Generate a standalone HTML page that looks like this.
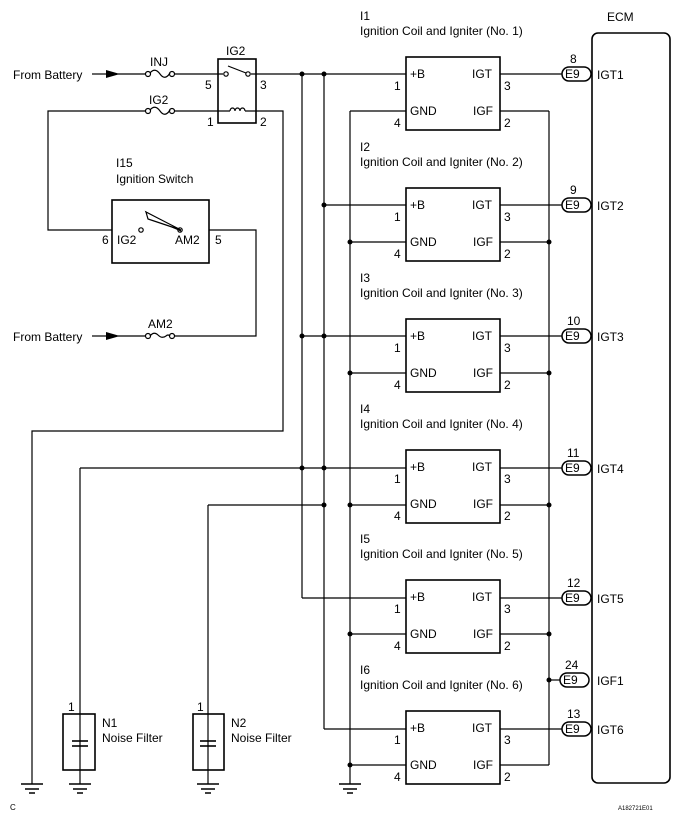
<!DOCTYPE html>
<html><head><meta charset="utf-8"><style>
html,body{margin:0;padding:0;background:#fff;}
svg{display:block;font-family:"Liberation Sans",sans-serif;}
text{font-size:12px;fill:#000;}
</style></head><body>
<svg width="691" height="822" viewBox="0 0 691 822" xmlns="http://www.w3.org/2000/svg">
<g stroke="#000" stroke-width="1.2" fill="none">
<!-- From battery INJ line -->
<line x1="92" y1="74" x2="108" y2="74"/>
<line x1="118" y1="74" x2="145" y2="74"/>
<circle cx="148" cy="74" r="2.5"/><circle cx="172" cy="74" r="2.5"/>
<path d="M150 73 Q155 67 160 74 Q165 81 170 73"/>
<line x1="175" y1="74" x2="223" y2="74"/>
<!-- relay -->
<rect x="218" y="59" width="38" height="64" stroke-width="1.6"/>
<circle cx="226" cy="74" r="2.2"/><circle cx="248" cy="74" r="2.2"/>
<line x1="228" y1="66" x2="246" y2="73"/>
<line x1="251" y1="74" x2="406" y2="74"/>
<!-- IG2 fuse line -->
<polyline points="145,111 48,111 48,230 112,230"/>
<circle cx="148" cy="111" r="2.5"/><circle cx="172" cy="111" r="2.5"/>
<path d="M150 110 Q155 104 160 111 Q165 118 170 110"/>
<line x1="175" y1="111" x2="230" y2="111"/>
<path d="M230 111 a2.5 3 0 0 1 5 0 a2.5 3 0 0 1 5 0 a2.5 3 0 0 1 5 0"/>
<polyline points="245,111 283,111 283,431 32,431 32,784"/>
<!-- ignition switch -->
<rect x="112" y="200" width="97" height="63" stroke-width="1.6"/>
<circle cx="141" cy="230" r="2.2"/><circle cx="180" cy="230" r="2.2"/>
<polyline points="209,230 256,230 256,336 175,336"/>
<line x1="92" y1="336" x2="108" y2="336"/>
<line x1="118" y1="336" x2="145" y2="336"/>
<circle cx="148" cy="336" r="2.5"/><circle cx="172" cy="336" r="2.5"/>
<path d="M150 336 Q154 331 158 335 Q162 339 166 336 Q168 334 170 336"/>
<!-- buses -->
<line x1="302" y1="74" x2="302" y2="598"/>
<line x1="324" y1="74" x2="324" y2="729"/>
<line x1="350" y1="111" x2="350" y2="784"/>
<line x1="549" y1="111" x2="549" y2="765"/>
<line x1="350" y1="111" x2="406" y2="111"/>
<line x1="500" y1="111" x2="549" y2="111"/>
<line x1="324" y1="205" x2="406" y2="205"/>
<line x1="302" y1="336" x2="406" y2="336"/>
<line x1="80" y1="468" x2="406" y2="468"/>
<line x1="80" y1="468" x2="80" y2="784"/>
<line x1="208" y1="505" x2="324" y2="505"/>
<line x1="208" y1="505" x2="208" y2="784"/>
<line x1="302" y1="598" x2="406" y2="598"/>
<line x1="324" y1="729" x2="406" y2="729"/>
<line x1="549" y1="680" x2="560" y2="680"/>
<!-- GND/IGF rows -->
<line x1="350" y1="242" x2="406" y2="242"/><line x1="500" y1="242" x2="549" y2="242"/>
<line x1="350" y1="373" x2="406" y2="373"/><line x1="500" y1="373" x2="549" y2="373"/>
<line x1="350" y1="505" x2="406" y2="505"/><line x1="500" y1="505" x2="549" y2="505"/>
<line x1="350" y1="634" x2="406" y2="634"/><line x1="500" y1="634" x2="549" y2="634"/>
<line x1="350" y1="765" x2="406" y2="765"/><line x1="500" y1="765" x2="549" y2="765"/>
<!-- IGT lines -->
<line x1="500" y1="74" x2="562" y2="74"/>
<line x1="500" y1="205" x2="562" y2="205"/>
<line x1="500" y1="336" x2="562" y2="336"/>
<line x1="500" y1="468" x2="562" y2="468"/>
<line x1="500" y1="598" x2="562" y2="598"/>
<line x1="500" y1="729" x2="562" y2="729"/>
<!-- igniter boxes -->
<g stroke-width="1.6">
<rect x="406" y="57" width="94" height="73"/>
<rect x="406" y="188" width="94" height="73"/>
<rect x="406" y="319" width="94" height="73"/>
<rect x="406" y="450" width="94" height="73"/>
<rect x="406" y="580" width="94" height="73"/>
<rect x="406" y="711" width="94" height="73"/>
<rect x="592" y="33" width="78" height="750" rx="6"/>
</g>
<!-- E9 connectors -->
<g stroke-width="1.5">
<rect x="562" y="67" width="29" height="14" rx="7"/>
<rect x="562" y="198" width="29" height="14" rx="7"/>
<rect x="562" y="329" width="29" height="14" rx="7"/>
<rect x="562" y="461" width="29" height="14" rx="7"/>
<rect x="562" y="591" width="29" height="14" rx="7"/>
<rect x="560" y="673" width="29" height="14" rx="7"/>
<rect x="562" y="722" width="29" height="14" rx="7"/>
</g>
<!-- noise filters -->
<rect x="63" y="714" width="32" height="56" stroke-width="1.6"/>
<rect x="193" y="714" width="31" height="56" stroke-width="1.6"/>
<line x1="72" y1="741" x2="88" y2="741" stroke-width="1.6"/><line x1="72" y1="746" x2="88" y2="746" stroke-width="1.6"/>
<line x1="200" y1="741" x2="216" y2="741" stroke-width="1.6"/><line x1="200" y1="746" x2="216" y2="746" stroke-width="1.6"/>
<!-- grounds -->
<g stroke-width="1.4">
<path d="M21 784h22M25 789h14M29 793h6"/>
<path d="M69 784h22M73 789h14M77 793h6"/>
<path d="M197 784h22M201 789h14M205 793h6"/>
<path d="M339 784h22M343 789h14M347 793h6"/>
</g>
</g>
<!-- arrows, switch lever -->
<polygon points="106,70 120,74 106,78" fill="#000"/>
<polygon points="106,332 120,336 106,340" fill="#000"/>
<polygon points="146,212 149,217 181,231" fill="#000" stroke="#000" stroke-width="1"/>
<polygon points="146,212 181,230 148,219" fill="#fff" stroke="#000" stroke-width="1.2"/>
<!-- dots -->
<g fill="#000">
<circle cx="302" cy="74" r="2.5"/><circle cx="324" cy="74" r="2.5"/>
<circle cx="324" cy="205" r="2.5"/>
<circle cx="302" cy="336" r="2.5"/><circle cx="324" cy="336" r="2.5"/>
<circle cx="302" cy="468" r="2.5"/><circle cx="324" cy="468" r="2.5"/>
<circle cx="324" cy="505" r="2.5"/>
<circle cx="350" cy="242" r="2.5"/><circle cx="549" cy="242" r="2.5"/>
<circle cx="350" cy="373" r="2.5"/><circle cx="549" cy="373" r="2.5"/>
<circle cx="350" cy="505" r="2.5"/><circle cx="549" cy="505" r="2.5"/>
<circle cx="350" cy="634" r="2.5"/><circle cx="549" cy="634" r="2.5"/>
<circle cx="350" cy="765" r="2.5"/><circle cx="549" cy="680" r="2.5"/>
</g>
<!-- texts -->
<text x="13" y="79">From Battery</text>
<text x="13" y="341">From Battery</text>
<text x="150" y="66">INJ</text>
<text x="149" y="104">IG2</text>
<text x="148" y="328">AM2</text>
<text x="226" y="55">IG2</text>
<text x="205" y="89">5</text><text x="260" y="89">3</text>
<text x="207" y="126">1</text><text x="260" y="126">2</text>
<text x="116" y="167">I15</text>
<text x="116" y="183">Ignition Switch</text>
<text x="102" y="244">6</text><text x="117" y="244">IG2</text>
<text x="175" y="244">AM2</text><text x="215" y="244">5</text>
<text x="607" y="21">ECM</text>
<g>
<text x="360" y="20">I1</text><text x="360" y="35">Ignition Coil and Igniter (No. 1)</text>
<text x="360" y="151">I2</text><text x="360" y="166">Ignition Coil and Igniter (No. 2)</text>
<text x="360" y="282">I3</text><text x="360" y="297">Ignition Coil and Igniter (No. 3)</text>
<text x="360" y="413">I4</text><text x="360" y="428">Ignition Coil and Igniter (No. 4)</text>
<text x="360" y="543">I5</text><text x="360" y="558">Ignition Coil and Igniter (No. 5)</text>
<text x="360" y="674">I6</text><text x="360" y="689">Ignition Coil and Igniter (No. 6)</text>
</g>
<g id="pins">
<text x="410" y="78">+B</text><text x="472" y="78">IGT</text><text x="410" y="115">GND</text><text x="473" y="115">IGF</text>
<text x="394" y="90">1</text><text x="504" y="90">3</text><text x="394" y="127">4</text><text x="504" y="127">2</text>
</g>
<use href="#pins" y="131"/>
<use href="#pins" y="262"/>
<use href="#pins" y="393"/>
<use href="#pins" y="523"/>
<use href="#pins" y="654"/>
<g font-size="11">
<text x="570" y="63">8</text><text x="565" y="78">E9</text><text x="597" y="79">IGT1</text>
<text x="570" y="194">9</text><text x="565" y="209">E9</text><text x="597" y="210">IGT2</text>
<text x="567" y="325">10</text><text x="565" y="340">E9</text><text x="597" y="341">IGT3</text>
<text x="567" y="457">11</text><text x="565" y="472">E9</text><text x="597" y="473">IGT4</text>
<text x="567" y="587">12</text><text x="565" y="602">E9</text><text x="597" y="603">IGT5</text>
<text x="565" y="669">24</text><text x="563" y="684">E9</text><text x="597" y="685">IGF1</text>
<text x="567" y="718">13</text><text x="565" y="733">E9</text><text x="597" y="734">IGT6</text>
</g>
<text x="68" y="711">1</text><text x="197" y="711">1</text>
<text x="102" y="727">N1</text><text x="102" y="742">Noise Filter</text>
<text x="231" y="727">N2</text><text x="231" y="742">Noise Filter</text>
<text x="10" y="810" style="font-size:8px">C</text>
<text x="618" y="810" style="font-size:6px">A182721E01</text>
</svg>
</body></html>
